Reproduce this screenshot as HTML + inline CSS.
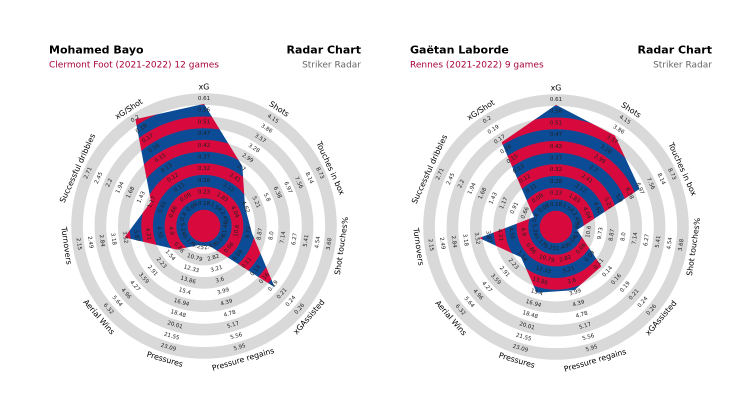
<!DOCTYPE html>
<html><head><meta charset="utf-8">
<style>
html,body{margin:0;padding:0;background:#fff;}
svg{display:block;font-family:"DejaVu Sans","Liberation Sans",sans-serif;}
</style></head>
<body>
<svg id="chart" width="730" height="411" viewBox="0 0 730 411"></svg>
<script>
const params = ["xG","Shots","Touches in box","Shot touches%","xGAssisted","Pressure regains","Pressures","Aerial Wins","Turnovers","Successful dribbles","xG/Shot"];
// ring label values, inner (k=0) to outer (k=9)
const ringLabels = [
  ["0.18","0.23","0.28","0.32","0.37","0.42","0.47","0.51","0.56","0.61"],
  ["1.54","1.83","2.12","2.41","2.7","2.99","3.28","3.57","3.86","4.15"],
  ["3.45","4.04","4.62","5.21","5.8","6.38","6.97","7.56","8.14","8.73"],
  ["11.46","10.6","9.73","8.87","8.0","7.14","6.27","5.41","4.54","3.68"],
  ["0.04","0.06","0.09","0.11","0.14","0.16","0.19","0.21","0.24","0.26"],
  ["2.43","2.82","3.21","3.6","3.99","4.39","4.78","5.17","5.56","5.95"],
  ["9.25","10.79","12.33","13.86","15.4","16.94","18.48","20.01","21.55","23.09"],
  ["0.17","0.86","1.54","2.23","2.91","3.59","4.27","4.96","5.64","6.32"],
  ["5.24","4.9","4.55","4.21","3.87","3.52","3.18","2.84","2.49","2.15"],
  ["0.4","0.66","0.91","1.17","1.43","1.68","1.94","2.2","2.45","2.71"],
  ["0.08","0.09","0.11","0.12","0.13","0.15","0.16","0.17","0.19","0.2"]
];
const bayoValues = [0.59, 2.76, 4.62, 9.5, 0.19, 2.4, 9.0, 1.0, 3.52, 1.2, 0.2];
const labordeValues = [0.59, 3.7, 6.97, 11.5, 0.12, 3.9, 15.4, 1.6, 3.6, 0.45, 0.17];

const NS = "http://www.w3.org/2000/svg";
const svg = document.getElementById("chart");
const R0 = 16, W = 11.68, NB = 10;
const RED = "#d8093d", BLUE = "#0c4c97", GRAY = "#d9d9d9";
function mk(tag, attrs, parent){ const e=document.createElementNS(NS,tag); for(const k in attrs) e.setAttribute(k,attrs[k]); (parent||svg).appendChild(e); return e; }
function valToR(i, v){
  const lo = parseFloat(ringLabels[i][0]), hi = parseFloat(ringLabels[i][9]);
  let k = (v - lo) / (hi - lo) * 9;
  let r = R0 + (k + 0.5) * W;
  return Math.max(R0, Math.min(R0 + NB * W, r));
}
function angle(i){ return i * 2 * Math.PI / params.length; }
function pt(cx, cy, r, a){ return [cx + r * Math.sin(a), cy - r * Math.cos(a)]; }
function rot(a){ let d = a * 180 / Math.PI; if (d > 90 && d < 270) d -= 180; else if (d >= 270) d -= 360; return d; }
function annulus(cx, cy, r1, r2){
  return `M${cx-r2},${cy}a${r2},${r2} 0 1,0 ${2*r2},0a${r2},${r2} 0 1,0 ${-2*r2},0Z M${cx-r1},${cy}a${r1},${r1} 0 1,1 ${2*r1},0a${r1},${r1} 0 1,1 ${-2*r1},0Z`;
}

function drawRadar(id, cx, cy, values, tx, txr, player, sub){
  const g = mk("g", {});
  
  
  for (let k = 1; k < NB; k += 2) {
    const p = mk("path", {d: annulus(cx, cy, R0 + k*W, R0 + (k+1)*W), fill: GRAY, "fill-rule": "evenodd"}, g);
    
    
  }
  const defs = mk("defs", {}, g);
  const cp = mk("clipPath", {id: id + "-clip"}, defs);
  const pts = values.map((v, i) => pt(cx, cy, valToR(i, v), angle(i)).join(",")).join(" ");
  mk("polygon", {points: pts}, cp);
  const sg = mk("g", {"clip-path": `url(#${id}-clip)`}, g);
  
  
  for (let k = 0; k < NB; k++) {
    mk("path", {d: annulus(cx, cy, R0 + k*W, R0 + (k+1)*W + 0.3), fill: k % 2 ? RED : BLUE, "fill-rule": "evenodd"}, sg);
  }
  const cc = mk("circle", {cx, cy, r: R0 + 0.3, fill: RED}, g);
  
  
  params.forEach((p, i) => {
    const a = angle(i);
    for (let k = 0; k < NB; k++) {
      const [x, y] = pt(cx, cy, R0 + (k + 0.5) * W, a);
      const t = mk("text", {x, y, "font-size": 5.5, "text-anchor": "middle", "dominant-baseline": "central", fill: "#222", transform: `rotate(${rot(a)} ${x} ${y})`}, g);
      t.textContent = ringLabels[i][k];
      
      
    }
    const [x, y] = pt(cx, cy, 139, a);
    const t = mk("text", {x, y, "font-size": 7.8, "text-anchor": "middle", "dominant-baseline": "central", fill: "#000", transform: `rotate(${rot(a)} ${x} ${y})`}, g);
    t.textContent = p;
    
    
  });
  const t1 = mk("text", {x: tx, y: 53.5, "font-size": 11, "font-weight": "bold", fill: "#000"}, g);
  t1.textContent = player;
  
  
  const t2 = mk("text", {x: tx, y: 67.7, "font-size": 9, fill: "#a6003c"}, g);
  t2.textContent = sub;
  
  
  const t3 = mk("text", {x: txr, y: 53.5, "font-size": 11, "font-weight": "bold", fill: "#000", "text-anchor": "end"}, g);
  t3.textContent = "Radar Chart";
  
  
  const t4 = mk("text", {x: txr, y: 67.7, "font-size": 9, fill: "#666", "text-anchor": "end"}, g);
  t4.textContent = "Striker Radar";
  
  
}
drawRadar("bayo", 204, 226, bayoValues, 49, 361, "Mohamed Bayo", "Clermont Foot (2021-2022) 12 games");
drawRadar("laborde", 556, 227, labordeValues, 410, 712, "Gaëtan Laborde", "Rennes (2021-2022) 9 games");
</script>
</body></html>
